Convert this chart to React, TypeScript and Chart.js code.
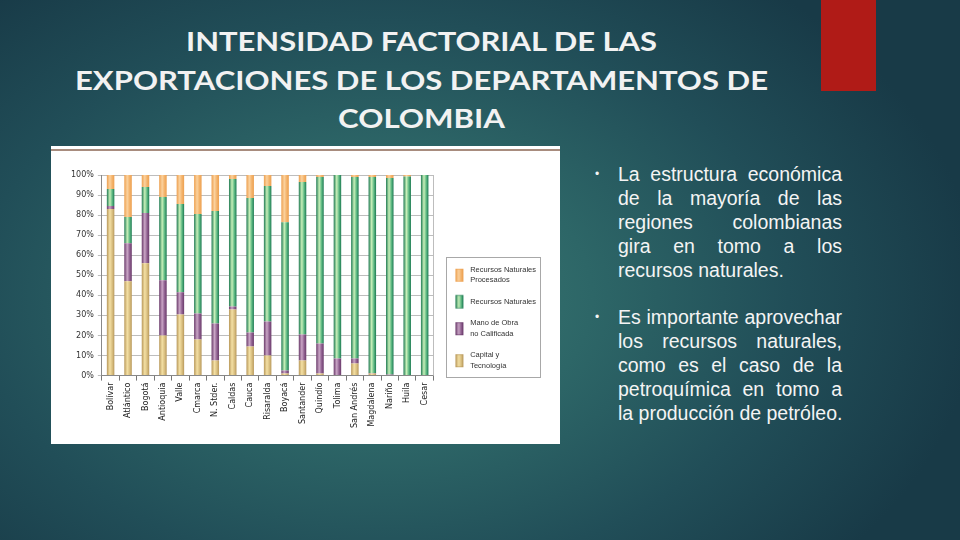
import React, { useEffect, useRef } from 'react';
import { Chart, registerables } from 'chart.js';

Chart.register(...registerables);

// ---- Data ----
const categories = [
  'Bolívar', 'Atlántico', 'Bogotá', 'Antioquia', 'Valle', 'Cmarca', 'N. Stder.', 'Caldas', 'Cauca',
  'Risaralda', 'Boyacá', 'Santander', 'Quindío', 'Tolima', 'San Andrés', 'Magdalena', 'Nariño', 'Huila', 'Cesar',
];
const capitalTecnologia = [83, 47, 56, 20, 30.5, 18, 7.5, 33, 14.5, 10, 1, 7.5, 1, 0, 6, 1, 0, 0, 0];
const manoObraNoCalificada = [1.5, 19, 25, 27.5, 11, 13, 18.5, 1.5, 7, 17, 1.5, 13, 15, 8.5, 2.5, 0.3, 0.5, 0, 0];
const recursosNaturales = [8.5, 13, 13, 41.5, 44, 49.5, 56, 63.5, 67, 67.5, 74, 76, 83, 91.5, 90.5, 97.7, 98, 99.3, 100];
const recursosNaturalesProcesados = [7, 21, 6, 11, 14.5, 19.5, 18, 2, 11.5, 5.5, 23.5, 3.5, 1, 0, 1, 1, 1.5, 0.7, 0];

const seriesLabels: string[][] = [
  ['Capital y', 'Tecnología'],
  ['Mano de Obra', 'no Calificada'],
  ['Recursos Naturales'],
  ['Recursos Naturales', 'Procesados'],
];
const yTickSuffix = '%';

const titleLines = [
  'INTENSIDAD FACTORIAL DE LAS',
  'EXPORTACIONES DE LOS DEPARTAMENTOS DE',
  'COLOMBIA',
];
const bullet1Lines = [
  'La estructura económica',
  'de la mayoría de las',
  'regiones colombianas',
  'gira en tomo a los',
  'recursos naturales.',
];
const bullet2Lines = [
  'Es importante aprovechar',
  'los recursos naturales,',
  'como es el caso de la',
  'petroquímica en tomo a',
  'la producción de petróleo.',
];

// ---- Styles (colors) ----
const palettes = [
  ['#b8985a', '#f4e0a4', '#d9bf80', '#d8be7c'], // capital
  ['#6a3a6a', '#caa6c6', '#8f6090', '#8e5e8e'], // mano de obra
  ['#1d7a52', '#c9f0b9', '#5cb882', '#4fae78'], // recursos naturales
  ['#eda050', '#fbd29e', '#f3b26a', '#f5b068'], // procesados
];
const BAR_PCT = 0.43;
const LEG_PAD = 11;
const LEG_BOXW = 22;
const SW_OFF = 11;

function makeSwatch(p: string[], twoLine: boolean): HTMLCanvasElement {
  const c = document.createElement('canvas');
  c.width = LEG_BOXW;
  c.height = 40;
  const g = c.getContext('2d')!;
  const top = twoLine ? 19 : 13.5;
  const gr = g.createLinearGradient(SW_OFF, 0, SW_OFF + 8, 0);
  gr.addColorStop(0, p[0]);
  gr.addColorStop(0.4, p[1]);
  gr.addColorStop(0.72, p[2]);
  gr.addColorStop(1, p[0]);
  g.fillStyle = gr;
  g.fillRect(SW_OFF, top, 8, 13);
  g.strokeStyle = p[0];
  g.lineWidth = 0.6;
  g.strokeRect(SW_OFF + 0.3, top + 0.3, 7.4, 12.4);
  return c;
}

function Slide() {
  const canvasRef = useRef<HTMLCanvasElement | null>(null);

  useEffect(() => {
    document.body.style.margin = '0';
    const canvas = canvasRef.current;
    if (!canvas) return;

    const gradientFor = (p: string[]) => (ctx: any) => {
      const chart = ctx.chart;
      const xs = chart.scales && chart.scales.x;
      if (!xs || ctx.dataIndex == null || !chart.chartArea) return p[3];
      const cx = xs.getPixelForValue(ctx.dataIndex);
      const w = (xs.width / categories.length) * BAR_PCT;
      const g = chart.ctx.createLinearGradient(cx - w / 2, 0, cx + w / 2, 0);
      g.addColorStop(0, p[0]);
      g.addColorStop(0.4, p[1]);
      g.addColorStop(0.72, p[2]);
      g.addColorStop(1, p[0]);
      return g;
    };

    const seriesData = [capitalTecnologia, manoObraNoCalificada, recursosNaturales, recursosNaturalesProcesados];
    const swatches = palettes.map((p, i) => makeSwatch(p, seriesLabels[i].length > 1));

    const frames = {
      id: 'frames',
      afterDraw(chart: any) {
        const a = chart.chartArea;
        const c = chart.ctx;
        c.save();
        // right border of the plot
        c.strokeStyle = '#bdbdbd';
        c.lineWidth = 1;
        c.beginPath();
        c.moveTo(Math.round(a.right) + 0.5, a.top);
        c.lineTo(Math.round(a.right) + 0.5, a.bottom);
        c.stroke();
        // legend frame
        c.strokeStyle = '#a8a8a8';
        const l = Math.round(a.right + 13) + 0.5;
        const r = Math.round(a.right + 107) + 0.5;
        const t = Math.round(a.bottom - 119) + 0.5;
        const b = Math.round(a.bottom + 1) + 0.5;
        c.strokeRect(l, t, r - l, b - t);
        c.restore();
      },
    };

    const chart = new Chart(canvas, {
      type: 'bar',
      data: {
        labels: categories,
        datasets: seriesData.map((d, i) => ({
          label: seriesLabels[i].join(' '),
          data: d,
          backgroundColor: gradientFor(palettes[i]),
          borderWidth: 0,
          barPercentage: BAR_PCT,
          categoryPercentage: 1,
        })),
      },
      options: {
        responsive: false,
        animation: false,
        layout: { padding: { top: 29, left: 16, right: 14, bottom: 14 } },
        plugins: {
          tooltip: { enabled: false },
          legend: {
            position: 'right',
            align: 'start',
            fullSize: true,
            title: {
              display: true,
              text: '',
              padding: { top: 71, bottom: 0 },
              font: { family: 'Liberation Sans', size: 7.5, lineHeight: 1.2 },
            },
            labels: {
              usePointStyle: true,
              pointStyleWidth: LEG_BOXW,
              boxHeight: 13,
              padding: LEG_PAD,
              font: { family: 'Liberation Sans', size: 7.5, lineHeight: 1.4 },
              color: '#333',
              generateLabels: () =>
                seriesLabels
                  .map((t, i) => ({
                    text: t as any,
                    fillStyle: palettes[i][3],
                    strokeStyle: palettes[i][0],
                    pointStyle: swatches[i],
                    lineWidth: 0,
                    fontColor: '#333',
                    hidden: false,
                    datasetIndex: i,
                  }))
                  .reverse(),
            },
          },
        },
        scales: {
          x: {
            stacked: true,
            grid: { offset: true, drawOnChartArea: false, drawTicks: true, tickLength: 5, color: '#777' },
            border: { color: '#888' },
            ticks: {
              autoSkip: false,
              minRotation: 90,
              maxRotation: 90,
              padding: 2,
              color: '#222',
              font: { family: 'DejaVu Sans', size: 8 },
            },
          },
          y: {
            stacked: true,
            min: 0,
            max: 100,
            grid: { color: '#bdbdbd', tickLength: 4 },
            border: { color: '#888' },
            ticks: {
              stepSize: 10,
              padding: 4,
              color: '#333',
              font: { family: 'DejaVu Sans', size: 8 },
              callback: (v: any) => v + yTickSuffix,
            },
          },
        },
      },
      plugins: [frames],
    } as any);

    return () => chart.destroy();
  }, []);

  const bulletLine = (text: string, last: boolean, top: number, key: number) => (
    <div
      key={key}
      style={{
        position: 'absolute',
        left: 618,
        top,
        width: 224,
        height: 24,
        lineHeight: '24px',
        whiteSpace: 'nowrap',
        textAlign: last ? 'left' : 'justify',
        textAlignLast: last ? 'left' : 'justify',
      } as any}
    >
      {text}
    </div>
  );

  return (
    <div
      style={{
        position: 'absolute',
        left: 0,
        top: 0,
        width: 960,
        height: 540,
        overflow: 'hidden',
        background:
          'radial-gradient(ellipse 62% 75% at 40% 55%, #3c7c74 0%, #2d6667 35%, #214e58 68%, #183a47 100%)',
      }}
    >
      <div style={{ position: 'absolute', left: 821, top: 0, width: 55, height: 91, background: '#b01b17' }} />
      <svg width={960} height={140} style={{ position: 'absolute', left: 0, top: 0 }}>
        {titleLines.map((t, i) => (
          <text
            key={i}
            x={421.5}
            y={[51, 90, 128][i]}
            textAnchor="middle"
            textLength={[471, 693, 167][i]}
            lengthAdjust="spacingAndGlyphs"
            fill="#f2f2f2"
            style={{ fontFamily: 'Lato', fontWeight: 700, fontSize: 27 }}
          >
            {t}
          </text>
        ))}
      </svg>
      <div style={{ position: 'absolute', left: 51, top: 146, width: 509, height: 298, background: '#ffffff' }}>
        <div style={{ position: 'absolute', left: 0, top: 3, width: 509, height: 2, background: '#a88c7e' }} />
        <canvas ref={canvasRef} width={509} height={298} style={{ position: 'absolute', left: 0, top: 0 }} />
      </div>
      <div style={{ color: '#f4f4f4', fontFamily: 'Liberation Sans', fontSize: 19.5 }}>
        <div style={{ position: 'absolute', left: 595, top: 162, lineHeight: '24px', fontSize: 12 }}>•</div>
        {bullet1Lines.map((t, i) => bulletLine(t, i === bullet1Lines.length - 1, 162 + i * 24, i))}
        <div style={{ position: 'absolute', left: 595, top: 305, lineHeight: '24px', fontSize: 12 }}>•</div>
        {bullet2Lines.map((t, i) => bulletLine(t, i === bullet2Lines.length - 1, 305 + i * 24, 10 + i))}
      </div>
    </div>
  );
}

export default function App() {
  return <Slide />;
}
